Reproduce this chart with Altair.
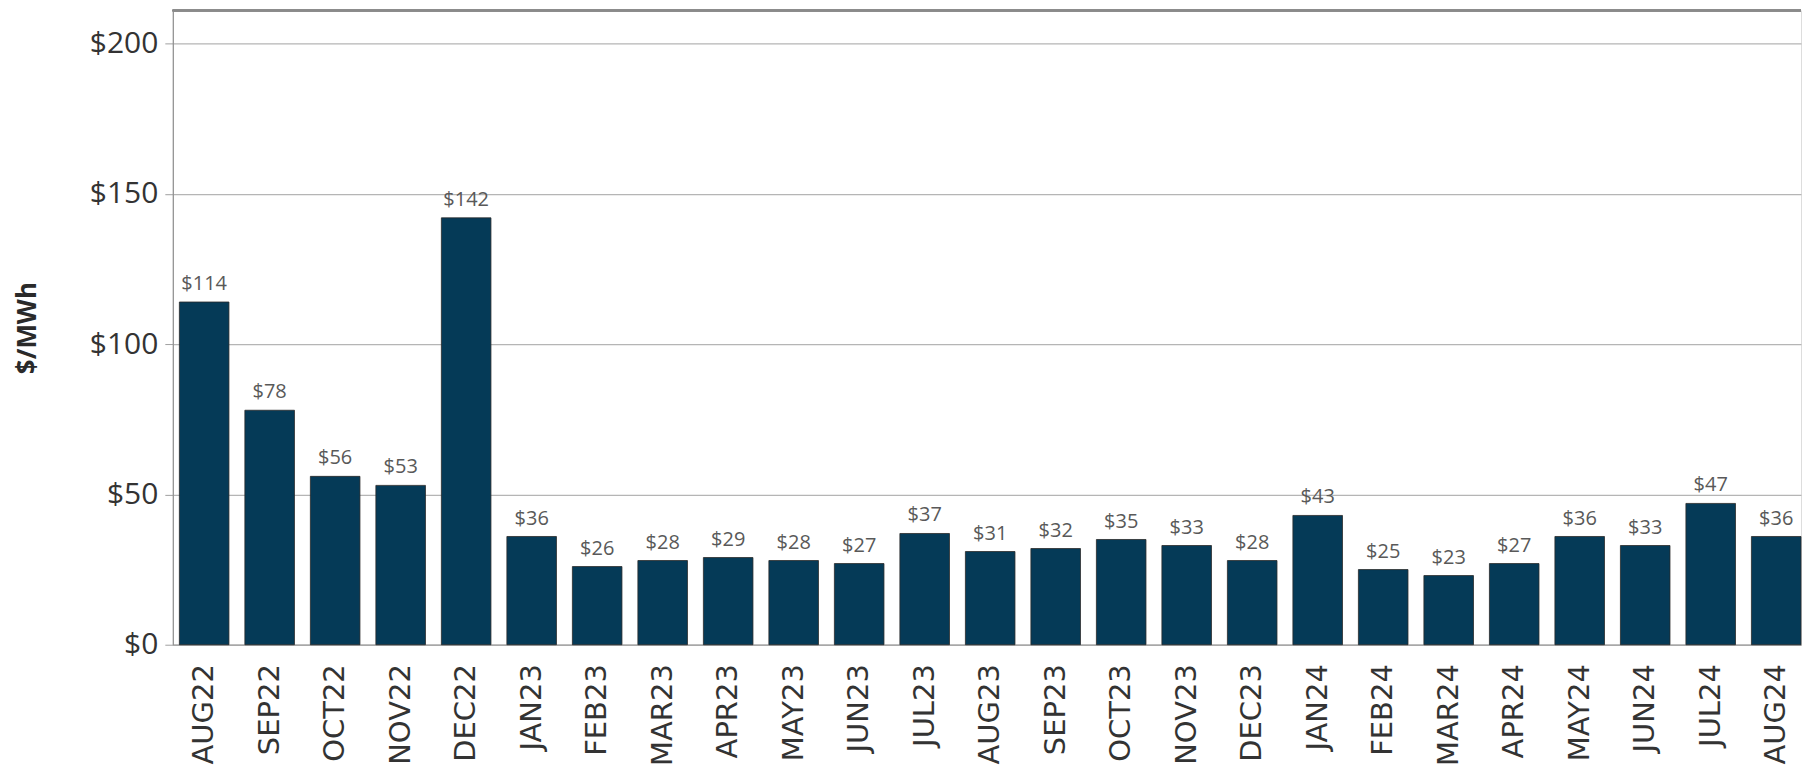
import altair as alt
import pandas as pd

months = ["AUG22", "SEP22", "OCT22", "NOV22", "DEC22", "JAN23", "FEB23", "MAR23",
          "APR23", "MAY23", "JUN23", "JUL23", "AUG23", "SEP23", "OCT23", "NOV23",
          "DEC23", "JAN24", "FEB24", "MAR24", "APR24", "MAY24", "JUN24", "JUL24", "AUG24"]
prices = [114, 78, 56, 53, 142, 36, 26, 28, 29, 28, 27, 37, 31, 32, 35, 33,
          28, 43, 25, 23, 27, 36, 33, 47, 36]
y_ticks = [0, 50, 100, 150, 200]
y_max = 211

df = pd.DataFrame({"month": months, "price": prices})
df["label"] = ["$" + str(v) for v in prices]

x_enc = alt.X("month:N", sort=months, title=None,
              scale=alt.Scale(paddingInner=0.243, paddingOuter=0.05, align=1),
              axis=alt.Axis(labelAngle=-90, labelFont="DejaVu Sans", labelFontSize=29,
                            labelColor="#333333", ticks=False, labelPadding=19,
                            domainColor="#a8a8a8", domainWidth=1.5, grid=False))
y_enc = alt.Y("price:Q", title="$/MWh",
              scale=alt.Scale(domain=[0, y_max], nice=False, zero=True),
              axis=alt.Axis(values=y_ticks, labelExpr="'$' + datum.value",
                            labelFont="Open Sans", labelFontSize=30, labelColor="#333333",
                            tickSize=8, tickColor="#a0a0a0", labelPadding=7,
                            domainColor="#909090", domainWidth=1.2,
                            gridColor="#b5b5b5", gridWidth=1.2,
                            titleFont="Open Sans", titleFontSize=26, titleFontWeight="bold",
                            titleColor="#2a2a2a", titlePadding=49))

bars = alt.Chart(df).mark_bar(color="#053A57", stroke="#2a2a2a", strokeWidth=0.8).encode(
    x=x_enc, y=y_enc)

labels = alt.Chart(df).mark_text(font="Open Sans", fontSize=20, color="#595959",
                                 baseline="alphabetic", dy=-12).encode(
    x=alt.X("month:N", sort=months), y="price:Q", text="label:N")

top_line = alt.Chart(df).mark_rule(color="#8a8a8a", strokeWidth=1.5).encode(
    y=alt.datum(y_max))

chart = (bars + labels + top_line).properties(
    width=1630, height=635,
    padding={"top": 1, "left": 6, "right": 0, "bottom": 0},
).configure_view(strokeWidth=0).configure(background="white")

chart.save("out.html", embed_options={"renderer": "svg", "actions": False})
